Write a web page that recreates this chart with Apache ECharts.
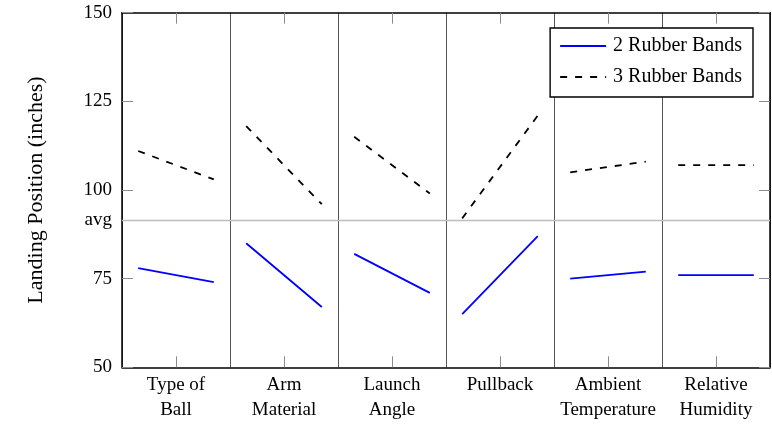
<!DOCTYPE html>
<html>
<head>
<meta charset="utf-8">
<script src="https://cdn.jsdelivr.net/npm/echarts@6/dist/echarts.min.js"></script>
<style>html,body{margin:0;padding:0;background:#fff}#c{width:772px;height:429px}</style>
</head>
<body>
<div id="c"></div>
<script>
var categories = ['Type of\nBall', 'Arm\nMaterial', 'Launch\nAngle', 'Pullback', 'Ambient\nTemperature', 'Relative\nHumidity'];
var twoLow = [78, 85, 82, 65, 75, 76];
var twoHigh = [74, 67, 71, 87, 77, 76];
var threeLow = [111, 118, 115, 92, 105, 107];
var threeHigh = [103, 96, 99, 121, 108, 107];
var avgValue = 91.5;
var yTicks = [50, 75, 100, 125, 150];
var levelOffset = 0.35;

function buildData(low, high) {
  var out = [];
  for (var i = 0; i < low.length; i++) {
    out.push([i + 0.5 - levelOffset, low[i]]);
    out.push([i + 0.5 + levelOffset, high[i]]);
    if (i < low.length - 1) out.push([i + 1, '-']);
  }
  return out;
}

var FONT = 'Liberation Serif';
var chart = echarts.init(document.getElementById('c'), null, {renderer: 'canvas'});
var tickStyle = {show: true, inside: true, length: 11, lineStyle: {color: '#8c8c8c', width: 1}};
var frame = {show: true, lineStyle: {color: '#000', width: 1.5}};
chart.setOption({
  animation: false,
  textStyle: {fontFamily: FONT},
  grid: {left: 122, right: 2, top: 12.7, bottom: 61.7, containLabel: false},
  legend: {
    right: 19, top: 28,
    orient: 'vertical',
    itemWidth: 46, itemHeight: 14, itemGap: 11,
    padding: [8, 11, 10, 9],
    borderColor: '#000', borderWidth: 1.4,
    backgroundColor: '#fff',
    itemStyle: {opacity: 0},
    textStyle: {fontFamily: FONT, fontSize: 20, color: '#000', width: 134, overflow: 'truncate', padding: [0, 0, 0, 2]},
    data: ['2 Rubber Bands', '3 Rubber Bands']
  },
  xAxis: [
    {type: 'value', min: 0, max: 6, interval: 1, position: 'bottom',
     axisLine: {show: false}, axisTick: {show: false}, axisLabel: {show: false},
     splitLine: {show: true, lineStyle: {color: '#555', width: 1}}},
    {type: 'category', data: categories, position: 'bottom', boundaryGap: true,
     axisLine: frame, axisTick: Object.assign({alignWithLabel: true}, tickStyle),
     axisLabel: {fontFamily: FONT, fontSize: 19, color: '#000', lineHeight: 25, margin: 5, interval: 0},
     splitLine: {show: false}},
    {type: 'category', data: categories, position: 'top', boundaryGap: true,
     axisLine: frame, axisTick: Object.assign({alignWithLabel: true}, tickStyle),
     axisLabel: {show: false}, splitLine: {show: false}}
  ],
  yAxis: [
    {type: 'value', min: yTicks[0], max: yTicks[yTicks.length - 1], interval: 25, position: 'left',
     axisLine: frame, axisTick: tickStyle,
     axisLabel: {fontFamily: FONT, fontSize: 19, color: '#000', margin: 10},
     splitLine: {show: false},
     name: 'Landing Position (inches)', nameLocation: 'middle', nameGap: 75,
     nameTextStyle: {fontFamily: FONT, fontSize: 22, color: '#000'}},
    {type: 'value', min: yTicks[0], max: yTicks[yTicks.length - 1], interval: 25, position: 'right',
     axisLine: frame, axisTick: tickStyle, axisLabel: {show: false}, splitLine: {show: false}}
  ],
  series: [
    {name: '2 Rubber Bands', type: 'line', xAxisIndex: 0, yAxisIndex: 0,
     data: buildData(twoLow, twoHigh), symbol: 'none', connectNulls: false,
     lineStyle: {color: '#0000ff', width: 1.8}, itemStyle: {color: '#0000ff'}, z: 5,
     markLine: {silent: true, symbol: 'none',
       lineStyle: {color: '#bdbdbd', width: 1.4, type: 'solid'},
       label: {show: true, position: 'start', formatter: 'avg', distance: 10,
               fontFamily: FONT, fontSize: 19, color: '#000', padding: [0, 0, 6, 0]},
       data: [{yAxis: avgValue}], z: 1}},
    {name: '3 Rubber Bands', type: 'line', xAxisIndex: 0, yAxisIndex: 0,
     data: buildData(threeLow, threeHigh), symbol: 'none', connectNulls: false,
     lineStyle: {color: '#000', width: 1.8, type: [7, 8]}, itemStyle: {color: '#000'}, z: 5}
  ]
});
</script>
</body>
</html>
